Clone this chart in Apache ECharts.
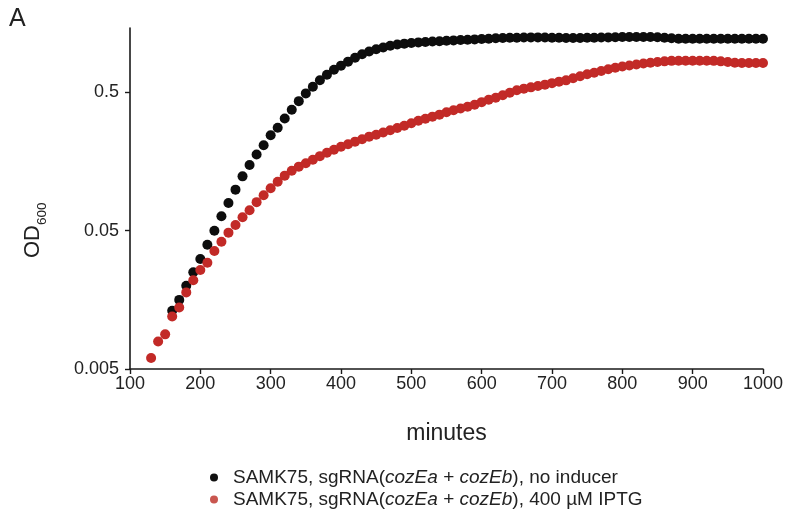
<!DOCTYPE html>
<html>
<head>
<meta charset="utf-8">
<script src="https://cdn.jsdelivr.net/npm/echarts@6/dist/echarts.min.js"></script>
<style>
html,body{margin:0;padding:0;background:#fff;}
#c{width:786px;height:514px;}
</style>
</head>
<body>
<div id="c"></div>
<script>
// ---- data (OD600 vs minutes) ----
var minutesBlack = [160,170,180,190,200,210,220,230,240,250,260,270,280,290,300,310,320,330,340,350,360,370,380,390,400,410,420,430,440,450,460,470,480,490,500,510,520,530,540,550,560,570,580,590,600,610,620,630,640,650,660,670,680,690,700,710,720,730,740,750,760,770,780,790,800,810,820,830,840,850,860,870,880,890,900,910,920,930,940,950,960,970,980,990,1000];
var odBlack = [0.0132,0.0158,0.0200,0.0250,0.0312,0.0396,0.0500,0.0635,0.0793,0.0990,0.1235,0.1494,0.1778,0.2076,0.2448,0.2778,0.3238,0.3749,0.4320,0.4917,0.5497,0.6126,0.6714,0.7297,0.780,0.834,0.891,0.944,0.988,1.025,1.056,1.085,1.110,1.125,1.138,1.149,1.157,1.167,1.172,1.182,1.188,1.196,1.202,1.208,1.216,1.222,1.231,1.237,1.240,1.243,1.246,1.249,1.249,1.246,1.243,1.240,1.237,1.237,1.237,1.240,1.243,1.246,1.249,1.253,1.258,1.258,1.258,1.258,1.256,1.252,1.243,1.231,1.222,1.222,1.222,1.222,1.222,1.222,1.222,1.222,1.222,1.222,1.222,1.222,1.222];

var minutesRed = [130,140,150,160,170,180,190,200,210,220,230,240,250,260,270,280,290,300,310,320,330,340,350,360,370,380,390,400,410,420,430,440,450,460,470,480,490,500,510,520,530,540,550,560,570,580,590,600,610,620,630,640,650,660,670,680,690,700,710,720,730,740,750,760,770,780,790,800,810,820,830,840,850,860,870,880,890,900,910,920,930,940,950,960,970,980,990,1000];
var odRed = [0.0060,0.0079,0.0089,0.0120,0.0139,0.0179,0.0219,0.0260,0.0293,0.0357,0.0416,0.0484,0.0550,0.0626,0.0703,0.0804,0.0903,0.1014,0.1130,0.1250,0.1358,0.1452,0.1538,0.1631,0.1729,0.1832,0.1926,0.2025,0.2111,0.2201,0.2294,0.2392,0.2472,0.2564,0.2665,0.2764,0.2872,0.2994,0.3121,0.3227,0.3337,0.3450,0.3596,0.3718,0.3824,0.3941,0.4074,0.4248,0.4428,0.4578,0.4773,0.4975,0.5185,0.532,0.5435,0.5563,0.5686,0.5830,0.5977,0.6107,0.6333,0.6548,0.6768,0.6939,0.7138,0.7356,0.7542,0.7694,0.7822,0.7953,0.8090,0.8199,0.8295,0.8377,0.8447,0.8474,0.8474,0.8474,0.8474,0.8474,0.8447,0.8377,0.8295,0.8199,0.8158,0.8158,0.8158,0.8158];

var yTicks = [0.005, 0.05, 0.5];
var yMaxValue = 1.46;
var xTicks = [100,200,300,400,500,600,700,800,900,1000];
var seriesNames = ['black', 'red'];

// ---- helpers: log10 transform relative to lowest tick ----
var base = yTicks[0];
function tf(v){ return Math.log10(v / base); }
function pairs(xs, ys){ return xs.map(function(x,i){ return [x, tf(ys[i])]; }); }

var font = '"Liberation Sans", Arial, Helvetica, sans-serif';
var txt = '#222';

var chart = echarts.init(document.getElementById('c'), null, {renderer:'canvas'});
var legendFmt = {
  black: '{n|SAMK75, sgRNA(}{i|cozEa}{n| + }{i|cozEb}{n|), no inducer}',
  red: '{n|SAMK75, sgRNA(}{i|cozEa}{n| + }{i|cozEb}{n|), 400 \u00b5M IPTG}'
};
chart.setOption({
  animation: false,
  backgroundColor: '#fff',
  grid: {left:130, right:22, top:28, bottom:145, containLabel:false},
  xAxis: {
    type:'value', min: xTicks[0], max: xTicks[xTicks.length-1], interval:100,
    name:'minutes', nameLocation:'middle', nameGap:53,
    nameTextStyle:{fontFamily:font, fontSize:23, color:txt},
    axisLine:{show:true, onZero:false, lineStyle:{color:'#1a1a1a', width:1.6}},
    axisTick:{show:true, length:5, lineStyle:{color:'#1a1a1a', width:1.4}},
    axisLabel:{fontFamily:font, fontSize:18, color:txt, margin:6,
      formatter:function(v){ return String(v); }},
    splitLine:{show:false}
  },
  yAxis: {
    type:'value', min:0, max: tf(yMaxValue),
    axisLine:{show:true, onZero:false, lineStyle:{color:'#1a1a1a', width:1.6}},
    axisTick:{show:true, length:5, customValues: yTicks.map(tf), lineStyle:{color:'#1a1a1a', width:1.4}},
    axisLabel:{fontFamily:font, fontSize:18, color:txt, margin:11,
      customValues: yTicks.map(tf),
      formatter:function(v){ var r = base*Math.pow(10, v); return String(parseFloat(r.toPrecision(3))); }},
    splitLine:{show:false}
  },
  legend: {
    orient:'vertical', left:205, top:463, itemGap:3, itemWidth:8, itemHeight:8,
    icon:'circle',
    data:[{name:'black', itemStyle:{color:'#111'}}, {name:'red', itemStyle:{color:'#c9564f'}}],
    formatter:function(n){ return legendFmt[n]; },
    textStyle:{fontFamily:font, fontSize:19, color:txt, padding:[0,0,0,10],
      rich:{n:{fontFamily:font, fontSize:19, color:txt}, i:{fontFamily:font, fontSize:19, color:txt, fontStyle:'italic'}}}
  },
  graphic: [
    {type:'text', left:9, top:7, style:{text:'A', font:'25px '+font, fill:txt}},
    {type:'text', x:16, y:258, rotation:Math.PI/2,
      style:{text:'{a|OD}{b|600}', fill:txt,
        rich:{a:{fontFamily:font, fontSize:22, lineHeight:28, verticalAlign:'bottom', fill:txt},
              b:{fontFamily:font, fontSize:13.5, lineHeight:28, verticalAlign:'bottom', fill:txt, padding:[0,0,-5,0]}}}}
  ],
  series: [
    {name:'black', type:'scatter', symbol:'circle', symbolSize:10, itemStyle:{color:'#0d0d0d', opacity:1},
     data: pairs(minutesBlack, odBlack)},
    {name:'red', type:'scatter', symbol:'circle', symbolSize:10, itemStyle:{color:'#c22a27', opacity:1},
     data: pairs(minutesRed, odRed)}
  ]
});
</script>
</body>
</html>
